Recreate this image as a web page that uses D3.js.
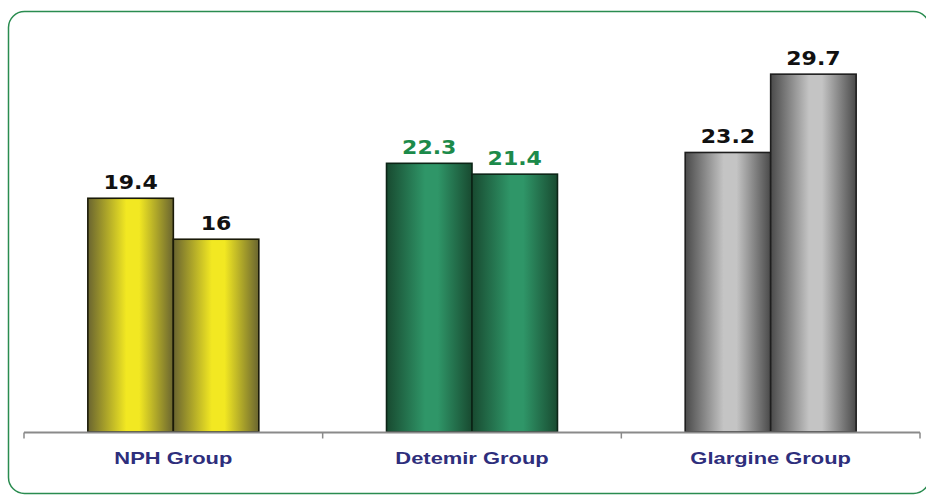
<!DOCTYPE html>
<html>
<head>
<meta charset="utf-8">
<script src="https://cdn.jsdelivr.net/npm/d3@7/dist/d3.min.js"></script>
<style>
  html, body { margin: 0; padding: 0; background: #ffffff; }
  svg { display: block; }
</style>
</head>
<body>
<script>
const categories = ["NPH Group", "Detemir Group", "Glargine Group"];
const seriesA = [19.4, 22.3, 23.2];
const seriesB = [16, 21.4, 29.7];
const valueLabels = [["19.4", "16"], ["22.3", "21.4"], ["23.2", "29.7"]];
const yDomain = [0, 35];

const W = 926, H = 495;
const svg = d3.select("body").append("svg").attr("width", W).attr("height", H);

// gradients per category
const palettes = [
  { edge: "#6a6530", mid: "#f2e822", stroke: "#1a1a08", label: "#111111" },
  { edge: "#184a30", mid: "#2f9668", stroke: "#0c2416", label: "#1c8a4a" },
  { edge: "#4a4a4a", mid: "#c4c4c4", stroke: "#1e1e1e", label: "#111111" }
];
const defs = svg.append("defs");
palettes.forEach((p, i) => {
  const g = defs.append("linearGradient").attr("id", "grad" + i)
    .attr("x1", "0%").attr("x2", "100%").attr("y1", "0%").attr("y2", "0%");
  g.append("stop").attr("offset", "0%").attr("stop-color", p.edge);
  g.append("stop").attr("offset", "45%").attr("stop-color", p.mid);
  g.append("stop").attr("offset", "60%").attr("stop-color", p.mid);
  g.append("stop").attr("offset", "100%").attr("stop-color", p.edge);
});

// frame
svg.append("rect")
  .attr("x", 8.5).attr("y", 11.5).attr("width", 921).attr("height", 482)
  .attr("rx", 16).attr("ry", 16)
  .attr("fill", "none").attr("stroke", "#2a8c50").attr("stroke-width", 1.5);

const x = d3.scaleBand().domain(categories).range([24, 920]).paddingInner(0).paddingOuter(0);
const xSub = d3.scaleBand().domain([0, 1]).range([0, x.bandwidth()]).paddingInner(0).paddingOuter(0.747);
const y = d3.scaleLinear().domain(yDomain).range([432, 10.3]);

const data = [];
categories.forEach((c, i) => {
  data.push({ cat: c, ci: i, s: 0, v: seriesA[i], label: valueLabels[i][0] });
  data.push({ cat: c, ci: i, s: 1, v: seriesB[i], label: valueLabels[i][1] });
});

// bars
svg.append("g").selectAll("rect").data(data).join("rect")
  .attr("x", d => x(d.cat) + xSub(d.s))
  .attr("y", d => y(d.v))
  .attr("width", xSub.bandwidth())
  .attr("height", d => y(0) - y(d.v))
  .attr("fill", d => `url(#grad${d.ci})`)
  .attr("stroke", d => palettes[d.ci].stroke)
  .attr("stroke-width", 1.6);

// value labels
svg.append("g").selectAll("text").data(data).join("text")
  .attr("transform", d => `translate(${x(d.cat) + xSub(d.s) + xSub.bandwidth() / 2},${y(d.v) - 9.5}) scale(1.16,1)`)
  .attr("text-anchor", "middle")
  .attr("font-family", "DejaVu Sans, Verdana, sans-serif")
  .attr("font-weight", "bold")
  .attr("font-size", 19)
  .attr("fill", d => palettes[d.ci].label)
  .text(d => d.label);

// axis
const axis = d3.axisBottom(x).tickSize(0).tickFormat("");
const ag = svg.append("g").attr("transform", `translate(0,${y(0) + 0.5})`).call(axis);
ag.select(".domain").attr("stroke", "#8a8a8a").attr("stroke-width", 2).attr("d", "M24,0H920");
// group boundary ticks
const boundaries = categories.map(c => x(c)).concat([x(categories[categories.length - 1]) + x.bandwidth()]);
ag.selectAll("line.bt").data(boundaries).join("line").attr("class", "bt")
  .attr("x1", d => d).attr("x2", d => d).attr("y1", 0).attr("y2", 6)
  .attr("stroke", "#8a8a8a").attr("stroke-width", 1.5);

// category labels
svg.append("g").selectAll("text").data(categories).join("text")
  .attr("transform", c => `translate(${x(c) + x.bandwidth() / 2},463.5) scale(1.37,1)`)
  .attr("text-anchor", "middle")
  .attr("font-family", "Liberation Sans, Arial, sans-serif")
  .attr("font-weight", "bold")
  .attr("font-size", 16)
  .attr("fill", "#2e2e7c")
  .text(c => c);
</script>
</body>
</html>
